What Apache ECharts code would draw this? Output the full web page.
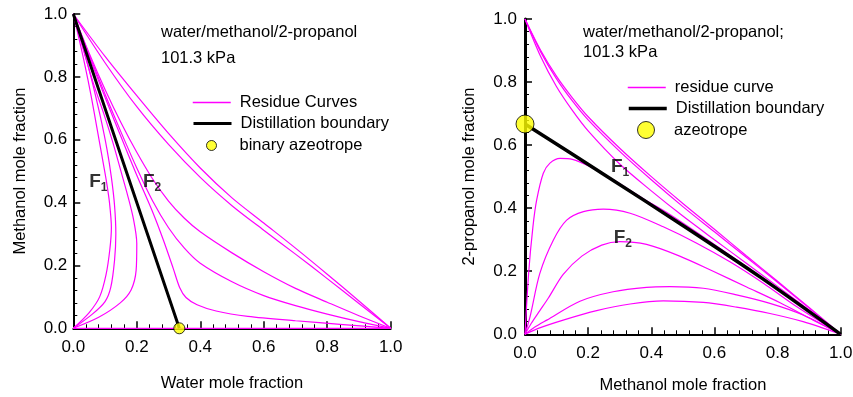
<!DOCTYPE html>
<html><head><meta charset="utf-8">
<script src="https://cdn.jsdelivr.net/npm/echarts@6/dist/echarts.min.js"></script>
<style>html,body{margin:0;padding:0;background:#fff}#c{width:853px;height:397px}</style>
</head><body><div id="c"></div>
<script>
// ---------- LEFT: x = water, y = methanol ----------
const leftTicks = [0, 0.2, 0.4, 0.6, 0.8, 1.0];
const leftF1Curve1 = [[0,0],[0.05,0.05],[0.083,0.1],[0.103,0.17],[0.115,0.25],[0.12,0.32],[0.114,0.4],[0.104,0.47],[0.09,0.55],[0.074,0.64],[0.056,0.74],[0.036,0.84],[0.016,0.93],[0,1]];
const leftF1Curve2 = [[0,0],[0.06,0.045],[0.1,0.085],[0.118,0.13],[0.13,0.217],[0.134,0.3],[0.13,0.39],[0.12,0.48],[0.106,0.57],[0.086,0.67],[0.063,0.77],[0.04,0.86],[0.018,0.94],[0,1]];
const leftF1Curve3 = [[0,0],[0.08,0.035],[0.147,0.08],[0.182,0.122],[0.198,0.185],[0.2,0.27],[0.19,0.345],[0.172,0.42],[0.15,0.5],[0.125,0.59],[0.097,0.68],[0.063,0.78],[0.035,0.875],[0.014,0.95],[0,1]];
const leftF2Curve1 = [[0,1],[0.05,0.865],[0.1,0.735],[0.15,0.61],[0.2,0.487],[0.25,0.37],[0.284,0.28],[0.315,0.19],[0.335,0.13],[0.355,0.098],[0.39,0.075],[0.45,0.055],[0.55,0.038],[0.7,0.024],[0.85,0.012],[1,0]];
const leftF2Curve2 = [[0,1],[0.05,0.87],[0.1,0.745],[0.15,0.625],[0.2,0.51],[0.25,0.405],[0.3,0.32],[0.35,0.255],[0.4,0.207],[0.5,0.148],[0.6,0.104],[0.7,0.072],[0.8,0.045],[0.9,0.021],[1,0]];
const leftF2Curve3 = [[0,1],[0.05,0.875],[0.1,0.76],[0.15,0.655],[0.2,0.56],[0.25,0.475],[0.3,0.405],[0.35,0.35],[0.4,0.307],[0.5,0.24],[0.6,0.18],[0.7,0.127],[0.8,0.083],[0.9,0.04],[1,0]];
const leftF2Curve4 = [[0,1],[0.1,0.845],[0.2,0.705],[0.3,0.585],[0.4,0.48],[0.5,0.39],[0.6,0.312],[0.7,0.236],[0.8,0.158],[0.9,0.079],[1,0]];
const leftF2Curve5 = [[0,1],[0.1,0.865],[0.2,0.74],[0.3,0.62],[0.4,0.51],[0.5,0.415],[0.6,0.335],[0.7,0.255],[0.8,0.172],[0.9,0.087],[1,0]];
const leftEdgeCurve = [[0,0],[1,0]];
const leftBoundary = [[0,1],[0.155,0.535],[0.334,0]];
const leftAzeotrope = [[0.334,0]];
const leftRegionLabels = [[0.079,0.465,'1'],[0.248,0.465,'2']];

// ---------- RIGHT: x = methanol, y = 2-propanol ----------
const rightTicks = [0, 0.2, 0.4, 0.6, 0.8, 1.0];
const rightUpperA = [[0,1],[0.05,0.88],[0.1,0.785],[0.15,0.71],[0.2,0.645],[0.3,0.54],[0.4,0.455],[0.5,0.375],[0.6,0.3],[0.7,0.226],[0.8,0.152],[0.9,0.077],[1,0]];
const rightUpperB = [[0,1],[0.05,0.895],[0.1,0.81],[0.15,0.74],[0.2,0.68],[0.3,0.58],[0.4,0.49],[0.5,0.405],[0.6,0.325],[0.7,0.245],[0.8,0.165],[0.9,0.083],[1,0]];
const rightUpperC = [[0,1],[0.05,0.9],[0.1,0.818],[0.15,0.75],[0.2,0.69],[0.3,0.59],[0.4,0.5],[0.5,0.415],[0.6,0.333],[0.7,0.25],[0.8,0.168],[0.9,0.085],[1,0]];
const rightPeak056 = [[0,0],[0.012,0.2],[0.025,0.34],[0.037,0.426],[0.058,0.511],[0.079,0.543],[0.111,0.558],[0.15,0.555],[0.2,0.535],[0.28,0.49],[0.375,0.43],[0.459,0.38],[0.6,0.285],[0.8,0.145],[1,0]];
const rightPeak040 = [[0,0],[0.016,0.056],[0.047,0.193],[0.09,0.299],[0.132,0.362],[0.185,0.389],[0.248,0.397],[0.333,0.384],[0.438,0.341],[0.544,0.289],[0.649,0.23],[0.755,0.162],[0.86,0.088],[1,0]];
const rightPeak030 = [[0,0],[0.02,0.035],[0.047,0.075],[0.074,0.115],[0.121,0.19],[0.18,0.248],[0.243,0.283],[0.3,0.294],[0.385,0.285],[0.49,0.248],[0.596,0.2],[0.702,0.15],[0.808,0.1],[0.913,0.045],[1,0]];
const rightPeak015 = [[0,0],[0.03,0.022],[0.069,0.045],[0.174,0.105],[0.279,0.135],[0.385,0.149],[0.459,0.151],[0.565,0.146],[0.67,0.125],[0.776,0.098],[0.881,0.061],[1,0]];
const rightPeak010 = [[0,0],[0.04,0.018],[0.121,0.045],[0.227,0.075],[0.333,0.096],[0.438,0.106],[0.565,0.101],[0.67,0.086],[0.776,0.066],[0.881,0.04],[1,0]];
const rightBoundary = [[0,0.667],[0.25,0.507],[0.5,0.345],[0.75,0.178],[1,0]];
const rightAzeotrope = [[0,0.667]];
const rightRegionLabels = [[0.301,0.531,'1'],[0.310,0.305,'2']];

const FONT = '"Liberation Sans", Arial, sans-serif';
const MAG = '#ff00ff';
const TXT = 16.5;

function axis(gridIndex, name, nameGap, lineW, labelMargin) {
  return {
    type: 'value', gridIndex, min: 0, max: 1, interval: 0.2,
    name, nameLocation: 'middle', nameGap,
    nameTextStyle: { fontSize: TXT, color: '#000', fontFamily: FONT },
    axisLine: { show: true, onZero: false, lineStyle: { color: '#000', width: lineW } },
    axisTick: { show: true, inside: true, length: 7, lineStyle: { color: '#000', width: 1.5 } },
    minorTick: { show: true, splitNumber: 5, length: 4, lineStyle: { color: '#000', width: 1 } },
    splitLine: { show: false },
    axisLabel: { fontSize: 17, color: '#000', fontFamily: FONT, margin: labelMargin,
      formatter: v => v.toFixed(1) }
  };
}

function curve(name, data, xi, lw, color, z) {
  return { type: 'line', name, data, xAxisIndex: xi, yAxisIndex: xi, symbol: 'none',
    smooth: 0.3, lineStyle: { color, width: lw }, itemStyle: { color }, z: z || 2, silent: true };
}

function labels(data, xi) {
  return { type: 'scatter', xAxisIndex: xi, yAxisIndex: xi, symbolSize: 0, silent: true, z: 10,
    data: data.map(d => ({ value: [d[0], d[1]], sub: d[2] })),
    label: { show: true, position: 'inside',
      formatter: p => '{f|F}{s|' + p.data.sub + '}',
      rich: {
        f: { fontSize: 19, fontWeight: 'bold', color: '#000', fontFamily: FONT },
        s: { fontSize: 12, fontWeight: 'bold', color: '#000', fontFamily: FONT, padding: [12, 0, 0, 0] }
      } } };
}

const legendText = { fontSize: TXT, color: '#000', fontFamily: FONT, padding: [0, 0, 0, 4] };
function legLine(name, left, top, lw) {
  return { data: [name], left, top, orient: 'vertical', itemWidth: 38, itemHeight: 10,
    padding: 0, textStyle: legendText, selectedMode: false,
    lineStyle: { width: lw },
    itemStyle: { color: 'rgba(0,0,0,0)', borderColor: 'rgba(0,0,0,0)', borderWidth: 0 } };
}
function legDot(name, left, top, ih) {
  return { data: [name], left, top, orient: 'vertical', itemWidth: 38, itemHeight: ih,
    padding: 0, textStyle: legendText, selectedMode: false,
    itemStyle: { borderWidth: 1, borderColor: '#000' } };
}

const option = {
  animation: false,
  grid: [
    { left: 73.3, top: 14, width: 317.4, height: 314.3, containLabel: false, outerBoundsMode: 'none' },
    { left: 525, top: 19, width: 315.7, height: 315.3, containLabel: false, outerBoundsMode: 'none' }
  ],
  xAxis: [
    axis(0, 'Water mole fraction', 47, 2, 11),
    axis(1, 'Methanol mole fraction', 43, 2, 11)
  ],
  yAxis: [
    axis(0, 'Methanol mole fraction', 44, 2, 6),
    axis(1, '2-propanol mole fraction', 47, 3, 8)
  ],
  title: [
    { text: 'water/methanol/2-propanol', left: 161, top: 24, padding: 0, textStyle: { fontSize: TXT, fontWeight: 'normal', color: '#000', fontFamily: FONT } },
    { text: '101.3 kPa', left: 161, top: 50, padding: 0, textStyle: { fontSize: TXT, fontWeight: 'normal', color: '#000', fontFamily: FONT } },
    { text: 'water/methanol/2-propanol;', left: 583, top: 24, padding: 0, textStyle: { fontSize: TXT, fontWeight: 'normal', color: '#000', fontFamily: FONT } },
    { text: '101.3 kPa', left: 583, top: 44, padding: 0, textStyle: { fontSize: TXT, fontWeight: 'normal', color: '#000', fontFamily: FONT } }
  ],
  legend: [
    legLine('Residue Curves', 192, 94, 1.5),
    legLine('Distillation boundary', 192, 115, 3),
    legDot('binary azeotrope', 206, 137, 10),
    legLine('residue curve', 627, 79, 1.5),
    legLine('Distillation boundary ', 627, 100, 3.5),
    legDot('azeotrope', 637, 121, 17)
  ],
  series: [
    curve('Residue Curves', leftEdgeCurve, 0, 1.2, MAG),
    curve('Residue Curves', leftF1Curve1, 0, 1.2, MAG),
    curve('Residue Curves', leftF1Curve2, 0, 1.2, MAG),
    curve('Residue Curves', leftF1Curve3, 0, 1.2, MAG),
    curve('Residue Curves', leftF2Curve1, 0, 1.2, MAG),
    curve('Residue Curves', leftF2Curve2, 0, 1.2, MAG),
    curve('Residue Curves', leftF2Curve3, 0, 1.2, MAG),
    curve('Residue Curves', leftF2Curve4, 0, 1.2, MAG),
    curve('Residue Curves', leftF2Curve5, 0, 1.2, MAG),
    curve('Distillation boundary', leftBoundary, 0, 3, '#000', 3),
    { type: 'scatter', name: 'binary azeotrope', data: leftAzeotrope, xAxisIndex: 0, yAxisIndex: 0,
      symbol: 'circle', symbolSize: 11, z: 5, itemStyle: { color: '#ffff00', borderColor: '#000', borderWidth: 1 } },
    labels(leftRegionLabels, 0),

    curve('residue curve', rightUpperA, 1, 1.2, MAG),
    curve('residue curve', rightUpperB, 1, 1.2, MAG),
    curve('residue curve', rightUpperC, 1, 1.2, MAG),
    curve('residue curve', rightPeak056, 1, 1.2, MAG),
    curve('residue curve', rightPeak040, 1, 1.2, MAG),
    curve('residue curve', rightPeak030, 1, 1.2, MAG),
    curve('residue curve', rightPeak015, 1, 1.2, MAG),
    curve('residue curve', rightPeak010, 1, 1.2, MAG),
    curve('Distillation boundary ', rightBoundary, 1, 3.5, '#000', 3),
    { type: 'scatter', name: 'azeotrope', data: rightAzeotrope, xAxisIndex: 1, yAxisIndex: 1,
      symbol: 'circle', symbolSize: 18, z: 5, itemStyle: { color: '#ffff00', borderColor: '#000', borderWidth: 1 } },
    labels(rightRegionLabels, 1)
  ]
};
const chart = echarts.init(document.getElementById('c'), null, { renderer: 'canvas' });
chart.setOption(option);
</script>
</body></html>
